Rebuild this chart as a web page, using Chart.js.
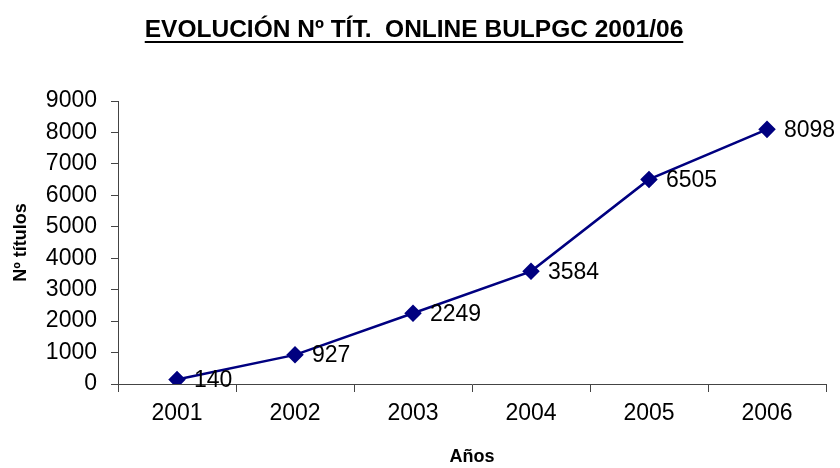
<!DOCTYPE html>
<html>
<head>
<meta charset="utf-8">
<script src="https://cdn.jsdelivr.net/npm/chart.js@4/dist/chart.umd.min.js"></script>
<style>
  html, body { margin: 0; padding: 0; background: #fff; }
  #wrap { width: 840px; height: 468px; }
</style>
</head>
<body>
<div id="wrap"><canvas id="titulos"></canvas></div>
<script>
let years = ['2001', '2002', '2003', '2004', '2005', '2006'];
let titles = [140, 927, 2249, 3584, 6505, 8098];
let chartTitle = 'EVOLUCIÓN Nº TÍT.  ONLINE BULPGC 2001/06';

Chart.defaults.font.family = '"Liberation Sans", Arial, sans-serif';
Chart.defaults.color = '#000';

// title with underline, like the original spreadsheet chart
let underlinedTitle = {
    id: 'underlinedTitle',
    afterDraw(chart) {
        let ctx = chart.ctx;
        ctx.save();
        ctx.font = 'bold 24.5px "Liberation Sans", Arial, sans-serif';
        ctx.fillStyle = '#000';
        ctx.textAlign = 'center';
        ctx.textBaseline = 'middle';
        let x = 414, y = 30;
        ctx.fillText(chartTitle, x, y);
        let w = ctx.measureText(chartTitle).width;
        ctx.fillRect(x - w / 2, y + 11, w, 2);
        ctx.restore();
    }
};

// value labels to the right of each point
let pointLabels = {
    id: 'pointLabels',
    afterDatasetsDraw(chart) {
        let ctx = chart.ctx;
        let meta = chart.getDatasetMeta(0);
        ctx.save();
        ctx.font = '23px "Liberation Sans", Arial, sans-serif';
        ctx.fillStyle = '#000';
        ctx.textAlign = 'left';
        ctx.textBaseline = 'middle';
        meta.data.forEach((pt, i) => {
            ctx.fillText(String(titles[i]), pt.x + 17, pt.y + 1);
        });
        ctx.restore();
    }
};

let titulosChart = new Chart(document.getElementById('titulos').getContext('2d'), {
    type: 'line',
    data: {
        labels: years,
        datasets: [{
            label: 'Nº títulos',
            data: titles,
            borderColor: '#000080',
            backgroundColor: '#000080',
            borderWidth: 2.5,
            pointStyle: 'rectRot',
            pointRadius: 7,
            pointHoverRadius: 7,
            tension: 0
        }]
    },
    options: {
        responsive: true,
        maintainAspectRatio: false,
        animation: false,
        layout: {
            padding: { top: 101, right: 14, bottom: 0, left: 0 }
        },
        plugins: {
            legend: { display: false },
            title: { display: false },
            tooltip: { enabled: false }
        },
        scales: {
            x: {
                offset: true,
                afterFit(scale) { scale.height = 84; },
                grid: {
                    offset: true,
                    drawOnChartArea: false,
                    tickLength: 8,
                    color: '#444'
                },
                border: { color: '#444', width: 1 },
                ticks: {
                    font: { size: 23 },
                    padding: 8,
                    maxRotation: 0
                },
                title: {
                    display: true,
                    text: 'Años',
                    font: { size: 18, weight: 'bold' },
                    padding: { top: 0, bottom: 0 }
                }
            },
            y: {
                min: 0,
                max: 9000,
                afterFit(scale) { scale.width = 118; },
                grid: {
                    drawOnChartArea: false,
                    tickLength: 7,
                    color: '#444'
                },
                border: { color: '#444', width: 1 },
                ticks: {
                    stepSize: 1000,
                    font: { size: 23 },
                    padding: 14,
                    format: { useGrouping: false }
                },
                title: {
                    display: true,
                    text: 'Nº títulos',
                    font: { size: 18, weight: 'bold' },
                    padding: { top: 10, bottom: 0 }
                }
            }
        }
    },
    plugins: [underlinedTitle, pointLabels]
});
</script>
</body>
</html>
